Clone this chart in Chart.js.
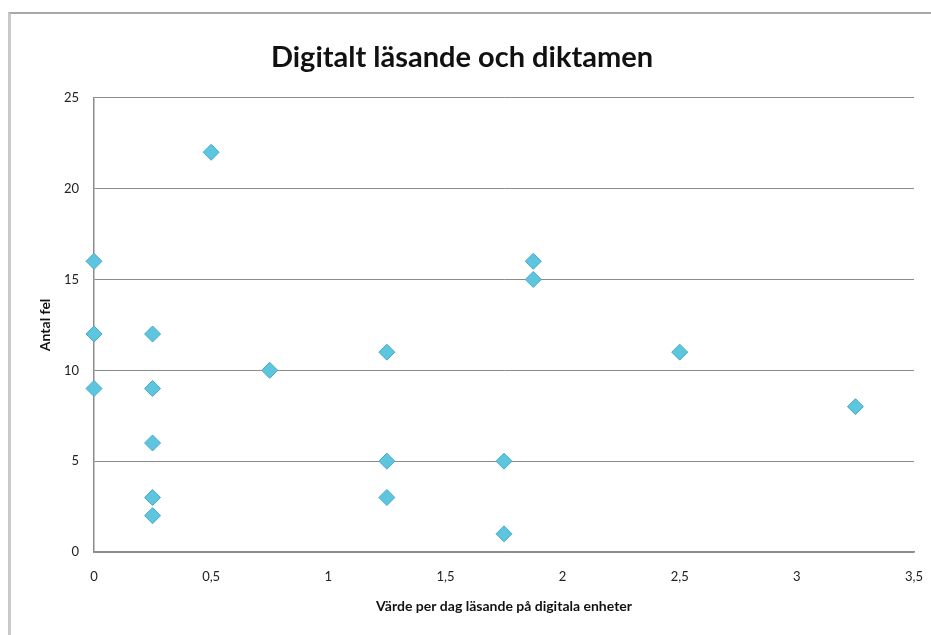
<!DOCTYPE html>
<html>
<head>
<meta charset="utf-8">
<script src="https://cdn.jsdelivr.net/npm/chart.js@4/dist/chart.umd.min.js"></script>
<style>
  body { margin: 0; background: #fff; }
  #wrap { position: relative; width: 931px; height: 635px; overflow: hidden; }
  #frame { position: absolute; left: 8px; top: 12px; width: 1000px; height: 700px;
           border-left: 3px solid #c9c9c9; border-top: 2px solid #a8a8a8; }
  canvas { position: absolute; left: 0; top: 0; }
</style>
</head>
<body>
<div id="wrap">
  <div id="frame"></div>
  <canvas id="chart" width="931" height="635"></canvas>
</div>
<script>
// reading value per day on digital devices
const readingPerDay = [0, 0, 0, 0, 0.25, 0.25, 0.25, 0.25, 0.25, 0.5, 0.75,
    1.25, 1.25, 1.25, 1.75, 1.75, 1.875, 1.875, 2.5, 3.25];
// number of errors
const errorCount = [16, 12, 12, 9, 12, 9, 6, 3, 2, 22, 10,
    11, 5, 3, 5, 1, 16, 15, 11, 8];

const xTickLabels = ['0', '0,5', '1', '1,5', '2', '2,5', '3', '3,5'];
const yTickLabels = ['0', '5', '10', '15', '20', '25'];

const points = readingPerDay.map((x, i) => ({ x: x, y: errorCount[i] }));

const tickFont = { family: 'Lato', size: 13 };
const axisGray = '#8c8c8c';

const ctx = document.getElementById('chart').getContext('2d');
new Chart(ctx, {
    type: 'scatter',
    data: {
        datasets: [{
            label: 'Antal fel',
            data: points,
            pointStyle: 'rectRot',
            pointRadius: 8,
            pointHoverRadius: 8,
            backgroundColor: '#5ec5de',
            borderColor: '#45abc9',
            borderWidth: 1,
            clip: false
        }]
    },
    options: {
        responsive: false,
        animation: false,
        devicePixelRatio: 1,
        layout: { padding: { left: 10, right: 17, top: 0, bottom: 0 } },
        plugins: {
            legend: { display: false },
            tooltip: { enabled: false },
            title: {
                display: true,
                text: 'Digitalt läsande och diktamen',
                color: '#111',
                font: { family: 'Lato', size: 29, weight: 'bold' },
                padding: { top: 40, bottom: 23 }
            }
        },
        scales: {
            x: {
                type: 'linear',
                min: 0,
                max: 3.5,
                afterFit: s => {
                    s.height = 83;
                    s.paddingLeft = 0;
                    s.paddingRight = 0;
                },
                afterBuildTicks: s => {
                    s.ticks = xTickLabels.map((t, i) => ({ value: i * 0.5 }));
                },
                ticks: {
                    padding: 17,
                    color: '#222',
                    font: tickFont,
                    maxRotation: 0,
                    callback: (v, i) => xTickLabels[i]
                },
                grid: { display: false, drawTicks: false },
                border: { display: true, color: axisGray, width: 1.5 },
                title: {
                    display: true,
                    text: 'Värde per dag läsande på digitala enheter',
                    color: '#111',
                    font: { family: 'Lato', size: 14, weight: 'bold' },
                    padding: { top: 0, bottom: 20 }
                }
            },
            y: {
                min: 0,
                max: 25,
                afterFit: s => {
                    s.width = 84;
                    s.paddingTop = 0;
                    s.paddingBottom = 0;
                },
                afterBuildTicks: s => {
                    s.ticks = yTickLabels.map(t => ({ value: Number(t) }));
                },
                ticks: {
                    padding: 15,
                    color: '#222',
                    font: tickFont,
                    callback: (v, i) => yTickLabels[i]
                },
                grid: { color: axisGray, lineWidth: 1, drawTicks: false },
                border: { display: true, color: axisGray, width: 1.5 },
                title: {
                    display: true,
                    text: 'Antal fel',
                    color: '#111',
                    font: { family: 'Lato', size: 14, weight: 'bold' },
                    padding: { top: 27, bottom: 0 }
                }
            }
        }
    }
});
</script>
</body>
</html>
